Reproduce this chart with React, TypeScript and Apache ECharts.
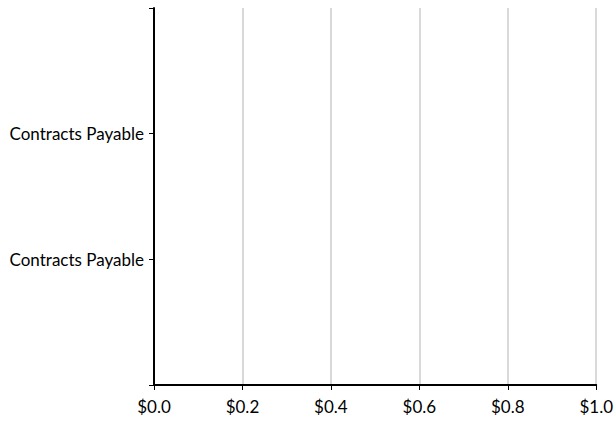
import React, { useEffect, useRef } from "react";
import * as echarts from "echarts";

const categories: string[] = ["Contracts Payable", "Contracts Payable"];
const values: number[] = [0, 0];
const xTicks: number[] = [0, 0.2, 0.4, 0.6, 0.8, 1.0];

export default function App() {
  const ref = useRef<HTMLDivElement>(null);
  useEffect(() => {
    document.body.style.margin = "0";
    if (!ref.current) return;
    const chart = echarts.init(ref.current, null, { renderer: "svg" });
    const yData = ["", ...categories, ""];
    const sData = [null, ...values, null];
    const font = "Lato, 'Open Sans', sans-serif";
    chart.setOption({
      animation: false,
      grid: { left: 154, right: 15, top: 8, bottom: 37, containLabel: false },
      xAxis: {
        type: "value",
        min: xTicks[0],
        max: xTicks[xTicks.length - 1],
        interval: 0.2,
        axisLine: { show: true, lineStyle: { color: "#000", width: 2 } },
        axisTick: { show: true, length: 5, lineStyle: { color: "#000", width: 1 } },
        axisLabel: {
          margin: 13,
          color: "#000",
          fontSize: 17,
          fontFamily: font,
          formatter: (v: number) => "$" + v.toFixed(1),
        },
        splitLine: { show: true, lineStyle: { color: "#d9d9d9", width: 2 } },
      },
      yAxis: {
        type: "category",
        data: yData,
        boundaryGap: false,
        axisLine: { show: true, lineStyle: { color: "#000", width: 2 } },
        axisTick: { show: true, length: 5, interval: 0, lineStyle: { color: "#000", width: 1 } },
        axisLabel: { interval: 0, margin: 10, color: "#000", fontSize: 17, fontFamily: font },
        splitLine: { show: false },
      },
      series: [
        {
          type: "bar",
          data: sData,
          itemStyle: { color: "#4472c4" },
        },
      ],
    });
    return () => chart.dispose();
  }, []);
  return <div ref={ref} style={{ width: 616, height: 422 }} />;
}
